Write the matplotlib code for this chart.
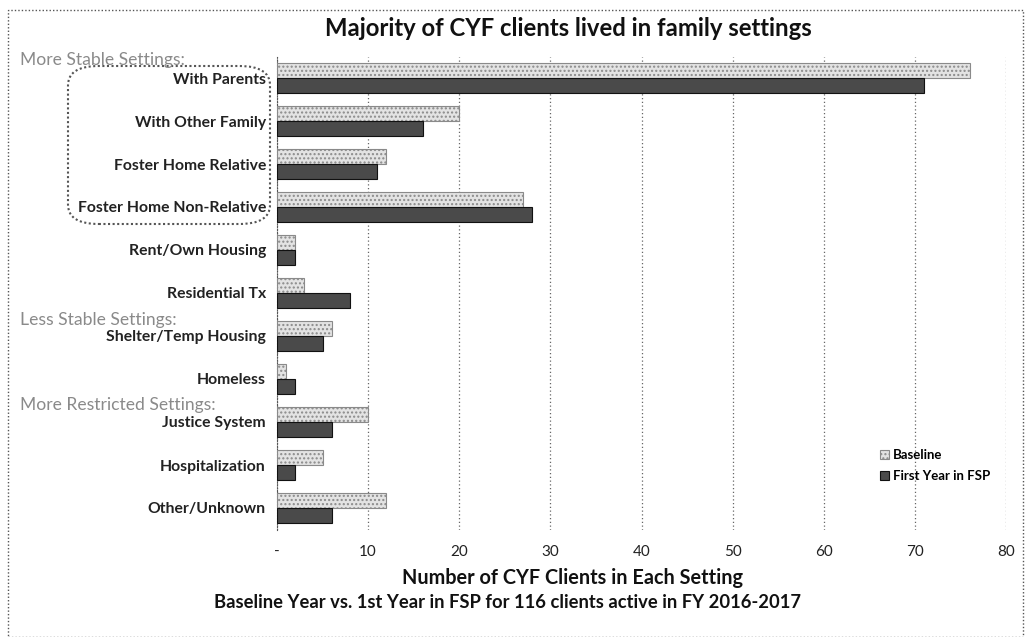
import matplotlib
matplotlib.use("Agg")
import matplotlib.pyplot as plt
from matplotlib.patches import FancyBboxPatch, Rectangle
import numpy as np

categories = ["With Parents", "With Other Family", "Foster Home Relative",
              "Foster Home Non-Relative", "Rent/Own Housing", "Residential Tx",
              "Shelter/Temp Housing", "Homeless", "Justice System",
              "Hospitalization", "Other/Unknown"]
baseline = [76, 20, 12, 27, 2, 3, 6, 1, 10, 5, 12]
first_year = [71, 16, 11, 28, 2, 8, 5, 2, 6, 2, 6]
xticks = [0, 10, 20, 30, 40, 50, 60, 70, 80]
xtick_labels = ["-", "10", "20", "30", "40", "50", "60", "70", "80"]
series_names = ["Baseline", "First Year in FSP"]
group_labels = ["More Stable Settings:", "Less Stable Settings:", "More Restricted Settings:"]

plt.rcParams['font.family'] = ['Lato', 'DejaVu Sans']

W, H = 1028, 637
fig = plt.figure(figsize=(W / 100, H / 100), dpi=100)

left, right = 277 / W, 1006 / W
top_px, bot_px = 56.5, 529.5
ax = fig.add_axes([left, 1 - bot_px / H, right - left, (bot_px - top_px) / H])

y = np.arange(len(categories))
h = 0.34
ax.barh(y - h / 2, baseline, height=h, color="#e3e3e3", edgecolor="#8a8a8a",
        linewidth=0.8, hatch="....", label=series_names[0], zorder=3)
ax.barh(y + h / 2, first_year, height=h, color="#4a4a4a", edgecolor="#111111",
        linewidth=0.8, label=series_names[1], zorder=3)

ax.set_ylim(len(categories) - 0.5, -0.5)
ax.set_xlim(0, 80)
ax.set_xticks(xticks)
ax.set_xticklabels(xtick_labels, fontsize=11, color="#222222")
ax.set_yticks(y)
ax.set_yticklabels(categories, fontsize=11.3, fontweight="bold", color="#222222")
ax.tick_params(axis="both", length=0, pad=8)
ax.tick_params(axis="x", pad=11)
for s in ["top", "right", "bottom"]:
    ax.spines[s].set_visible(False)
ax.spines["left"].set_color("#555555")
ax.spines["left"].set_linestyle((0, (1, 1.5)))
ax.grid(axis="x", color="#666666", linestyle=(0, (1, 2)), linewidth=0.9, zorder=0)

leg = ax.legend(loc="upper left", frameon=False,
                prop={"family": "Lato", "weight": "bold", "size": 9.5},
                handlelength=0.7, handleheight=0.7, handletextpad=0.3,
                labelspacing=0.7)
leg.set_bbox_to_anchor((868 / W, 1 - 437 / H), transform=fig.transFigure)

fig.text(568 / W, 1 - 28 / H, "Majority of CYF clients lived in family settings",
         ha="center", va="center", fontsize=17.2, fontweight="bold", color="#111111")
fig.text(573 / W, 1 - 578 / H, "Number of CYF Clients in Each Setting",
         ha="center", va="center", fontsize=14.3, fontweight="bold", color="#111111")
fig.text(508 / W, 1 - 603 / H,
         "Baseline Year vs. 1st Year in FSP for 116 clients active in FY 2016-2017",
         ha="center", va="center", fontsize=13.2, fontweight="bold", color="#111111")

for lbl, ypx in zip(group_labels, [60, 320, 405]):
    fig.text(20 / W, 1 - ypx / H, lbl, ha="left", va="center", fontsize=12.6,
             color="#8a8a8a")

box = FancyBboxPatch((68 / W, 1 - 224 / H), 202 / W, 158 / H,
                     boxstyle="round,pad=0,rounding_size=0.03",
                     transform=fig.transFigure, fill=False,
                     edgecolor="#555555", linestyle=(0, (1, 1.2)), linewidth=1.5)
fig.patches.append(box)

frame = Rectangle((8 / W, 0.0), 1015 / W, 1 - 10 / H, transform=fig.transFigure,
                  fill=False, edgecolor="#555555", linestyle=(0, (1, 1.5)),
                  linewidth=1)
fig.patches.append(frame)

fig.savefig("out.png", dpi=100)
